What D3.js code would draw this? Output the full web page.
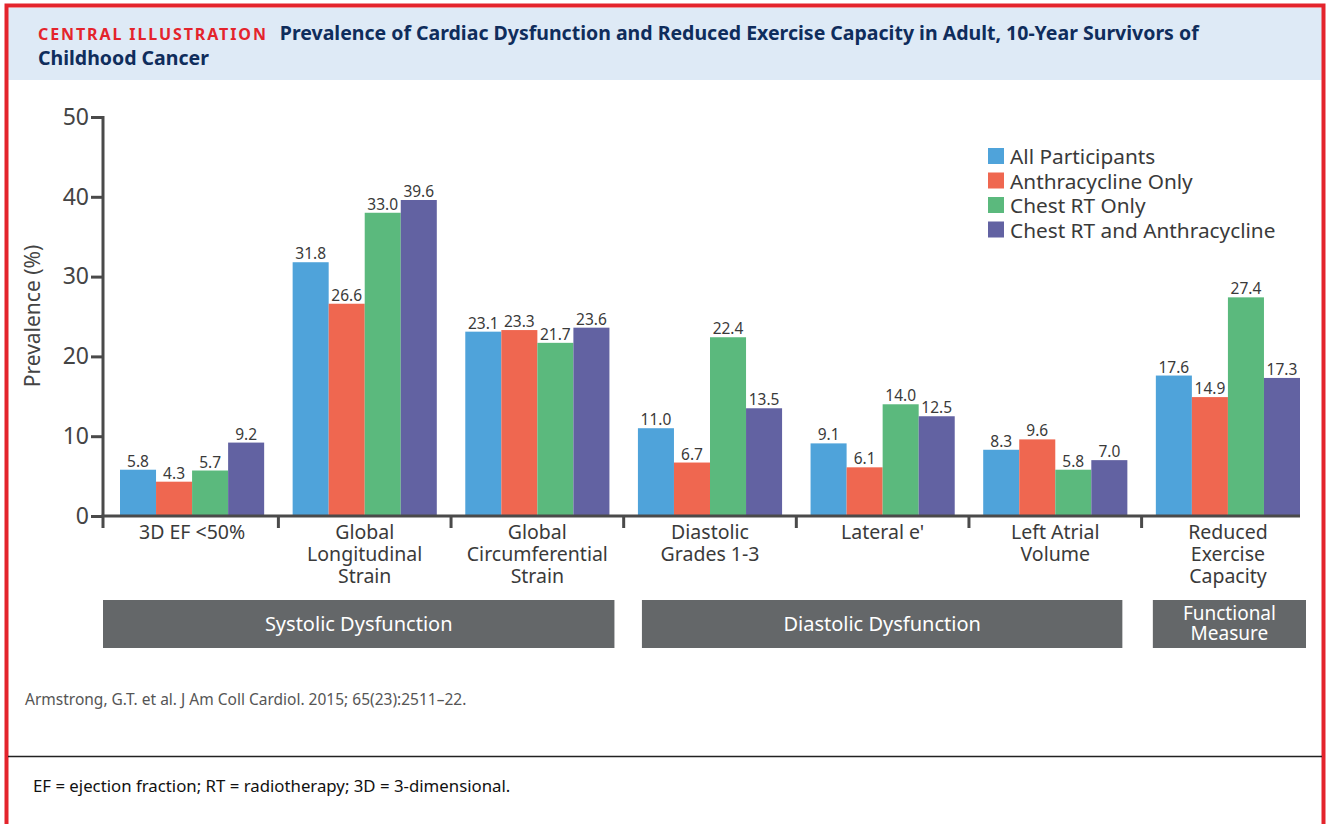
<!DOCTYPE html>
<html>
<head>
<meta charset="utf-8">
<script src="https://cdn.jsdelivr.net/npm/d3@7"></script>
<style>
  body { margin: 0; background: #fff; }
  svg { display: block; font-family: "Noto Sans", "Open Sans", sans-serif; }
</style>
</head>
<body>
<svg id="chart" width="1328" height="824"></svg>
<script>
// categories and groups
var categories = ['3D EF <50%', 'Global Longitudinal Strain', 'Global Circumferential Strain',
  'Diastolic Grades 1-3', "Lateral e'", 'Left Atrial Volume', 'Reduced Exercise Capacity'];
var categoryLines = [['3D EF <50%'], ['Global', 'Longitudinal', 'Strain'], ['Global', 'Circumferential', 'Strain'],
  ['Diastolic', 'Grades 1-3'], ["Lateral e'"], ['Left Atrial', 'Volume'], ['Reduced', 'Exercise', 'Capacity']];
var seriesNames = ['All Participants', 'Anthracycline Only', 'Chest RT Only', 'Chest RT and Anthracycline'];

// values per series (one per category)
var allParticipants = [5.8, 31.8, 23.1, 11.0, 9.1, 8.3, 17.6];
var anthracyclineOnly = [4.3, 26.6, 23.3, 6.7, 6.1, 9.6, 14.9];
var chestRTOnly = [5.7, 38.0, 21.7, 22.4, 14.0, 5.8, 27.4];   // GLS bar is drawn near 38 in the original
var chestRTAnthra = [9.2, 39.6, 23.6, 13.5, 12.5, 7.0, 17.3];
// printed labels (the GLS chest RT label reads 33.0)
var chestRTOnlyLabels = ['5.7', '33.0', '21.7', '22.4', '14.0', '5.8', '27.4'];

var groupNames = [['Systolic Dysfunction'], ['Diastolic Dysfunction'], ['Functional', 'Measure']];
var yTicks = [0, 10, 20, 30, 40, 50];

var colors = ['#4fa3da', '#ef6750', '#5bb97d', '#6262a2'];
var seriesValues = [allParticipants, anthracyclineOnly, chestRTOnly, chestRTAnthra];

var svg = d3.select('#chart');

// frame and header
svg.append('rect').attr('x', 8).attr('y', 8).attr('width', 1314).attr('height', 72).attr('fill', '#deeaf6');
svg.append('path').attr('d', 'M6.5,830 V5.5 H1323.5 V830')
  .attr('fill', 'none').attr('stroke', '#e4242c').attr('stroke-width', 4);

var title = svg.append('text').attr('x', 38).attr('y', 40);
title.append('tspan').text('CENTRAL ILLUSTRATION')
  .attr('fill', '#e4242c').attr('font-weight', 700).attr('font-size', 16).attr('letter-spacing', 1.9);
title.append('tspan').text('Prevalence of Cardiac Dysfunction and Reduced Exercise Capacity in Adult, 10-Year Survivors of')
  .attr('dx', 12).attr('fill', '#0f2d5c').attr('font-weight', 700).attr('font-size', 19.5);
svg.append('text').attr('x', 38).attr('y', 65).text('Childhood Cancer')
  .attr('fill', '#0f2d5c').attr('font-weight', 700).attr('font-size', 19.5);

// scales
var y = d3.scaleLinear().domain([0, 50]).range([516, 117]);
var x0 = d3.scaleBand().domain(categories).range([120, 1300]).paddingInner(0.165).paddingOuter(0);
var x1 = d3.scaleBand().domain(seriesNames).range([0, x0.bandwidth()]);

var axisColor = '#4a4a4a';

// y axis
var yAxis = svg.append('g').attr('transform', 'translate(103,0)')
  .call(d3.axisLeft(y).tickValues(yTicks).tickSize(12).tickPadding(2));
yAxis.select('.domain').remove();
yAxis.selectAll('line').attr('stroke', axisColor).attr('stroke-width', 3);
yAxis.selectAll('text').attr('font-size', 23).attr('fill', '#444').attr('font-family', '"Noto Sans", sans-serif');
svg.append('line').attr('x1', 103).attr('x2', 103).attr('y1', 116).attr('y2', 528)
  .attr('stroke', axisColor).attr('stroke-width', 3);

svg.append('text').attr('transform', 'translate(40,316) rotate(-90)')
  .attr('text-anchor', 'middle').attr('font-size', 21).attr('fill', '#444').text('Prevalence (%)');

// bars
var rows = categories.map(function (c, i) {
  return { cat: c, i: i };
});
var groups = svg.append('g').selectAll('g').data(rows).enter().append('g')
  .attr('transform', function (d) { return 'translate(' + x0(d.cat) + ',0)'; });

groups.selectAll('rect')
  .data(function (d) {
    return seriesNames.map(function (s, k) { return { s: s, k: k, v: seriesValues[k][d.i] }; });
  })
  .enter().append('rect')
  .attr('x', function (d) { return x1(d.s); })
  .attr('width', x1.bandwidth())
  .attr('y', function (d) { return y(d.v); })
  .attr('height', function (d) { return y(0) - y(d.v); })
  .attr('fill', function (d) { return colors[d.k]; });

groups.selectAll('text.val')
  .data(function (d) {
    return seriesNames.map(function (s, k) {
      var lab = k === 2 ? chestRTOnlyLabels[d.i] : seriesValues[k][d.i].toFixed(1);
      return { s: s, k: k, v: seriesValues[k][d.i], lab: lab };
    });
  })
  .enter().append('text').attr('class', 'val')
  .attr('x', function (d) { return x1(d.s) + x1.bandwidth() / 2; })
  .attr('y', function (d) { return y(d.v) - 3; })
  .attr('text-anchor', 'middle').attr('font-size', 15.5).attr('fill', '#3a3a3a')
  .text(function (d) { return d.lab; });

// x axis line and separators
svg.append('line').attr('x1', 101.5).attr('x2', 1300).attr('y1', 516).attr('y2', 516)
  .attr('stroke', axisColor).attr('stroke-width', 3);
var sepX = categories.slice(1).map(function (c) {
  return x0(c) - x0.step() * x0.paddingInner() / 2;
});
svg.selectAll('line.sep').data(sepX).enter().append('line').attr('class', 'sep')
  .attr('x1', function (d) { return d; }).attr('x2', function (d) { return d; })
  .attr('y1', 516).attr('y2', 528).attr('stroke', axisColor).attr('stroke-width', 3);

// category labels, one text per line
rows.forEach(function (d) {
  var cx = x0(d.cat) + x0.bandwidth() / 2;
  categoryLines[d.i].forEach(function (t, j) {
    svg.append('text').attr('x', cx).attr('y', 539 + j * 22)
      .attr('text-anchor', 'middle').attr('font-size', 19.5).attr('fill', '#3a3a3a').text(t);
  });
});

// group boxes
var boxLeft = [103, x0(categories[3]) + 4, x0(categories[6]) - 3];
var boxRight = [x0(categories[2]) + x0.bandwidth() + 5, x0(categories[5]) + x0.bandwidth() - 5, 1306];
groupNames.forEach(function (g, i) {
  svg.append('rect').attr('x', boxLeft[i]).attr('y', 600)
    .attr('width', boxRight[i] - boxLeft[i]).attr('height', 48).attr('fill', '#646769');
  var cx = (boxLeft[i] + boxRight[i]) / 2;
  g.forEach(function (line, j) {
    var yy = g.length === 1 ? 631 : 620 + j * 20;
    svg.append('text').attr('x', cx).attr('y', yy).attr('text-anchor', 'middle')
      .attr('fill', '#fff').attr('font-size', g.length === 1 ? 20 : 19).text(line);
  });
});

// legend
var legend = svg.append('g').attr('transform', 'translate(988,148)');
seriesNames.forEach(function (s, k) {
  legend.append('rect').attr('x', 0).attr('y', k * 24.5).attr('width', 16).attr('height', 16).attr('fill', colors[k]);
  legend.append('text').attr('x', 22).attr('y', k * 24.5 + 16).attr('font-size', 20.8)
    .attr('fill', '#3a3a3a').text(s);
});

// citation and footnote
svg.append('text').attr('x', 25).attr('y', 705).attr('font-size', 15.5).attr('fill', '#555')
  .attr('font-family', '"Liberation Sans Narrow", "Noto Sans", sans-serif')
  .text('Armstrong, G.T. et al. J Am Coll Cardiol. 2015; 65(23):2511\u201322.');
svg.append('line').attr('x1', 8).attr('x2', 1322).attr('y1', 756.5).attr('y2', 756.5)
  .attr('stroke', '#222').attr('stroke-width', 1.5);
svg.append('text').attr('x', 33).attr('y', 792).attr('font-size', 16.8).attr('fill', '#111')
  .attr('font-family', '"Liberation Sans Narrow", "Noto Sans", sans-serif')
  .text('EF = ejection fraction; RT = radiotherapy; 3D = 3-dimensional.');
</script>
</body>
</html>
